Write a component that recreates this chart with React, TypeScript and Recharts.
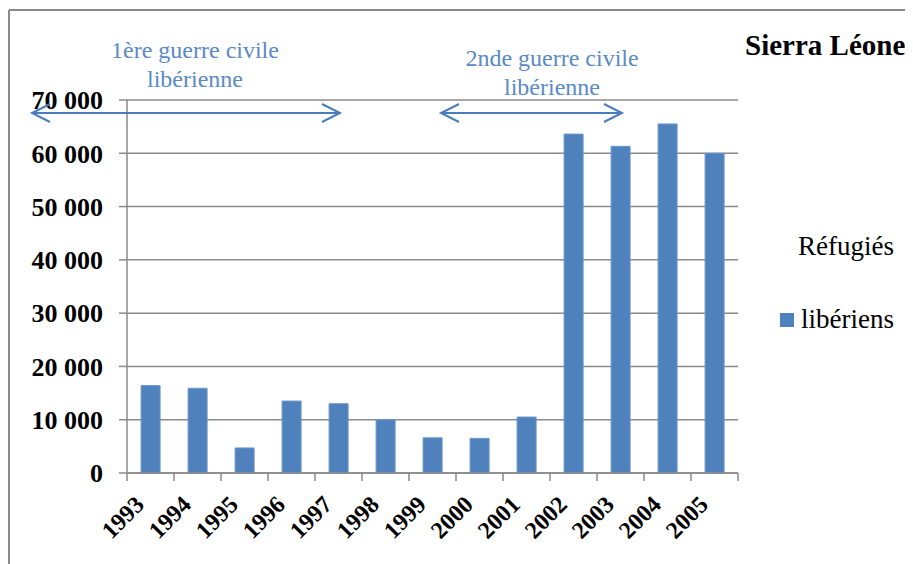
import React from "react";
import { BarChart, Bar, XAxis, YAxis, CartesianGrid } from "recharts";

const YEARS = ["1993","1994","1995","1996","1997","1998","1999","2000","2001","2002","2003","2004","2005"];
const REFUGEES = [16400, 15900, 4700, 13500, 13000, 10000, 6600, 6500, 10500, 63600, 61300, 65500, 60000];
const Y_TICKS = [0, 10000, 20000, 30000, 40000, 50000, 60000, 70000];
const SERIES_NAME = "libériens";
const LEGEND_TITLE = "Réfugiés";
const HEADING = "Sierra Léone";
const ANNOT_1 = ["1ère guerre civile", "libérienne"];
const ANNOT_2 = ["2nde guerre civile", "libérienne"];

const data = YEARS.map((y, i) => ({ year: y, value: REFUGEES[i] }));

const W = 905;
const H = 556;
const PLOT_LEFT = 119;
const PLOT_RIGHT = 730;
const STEP = (PLOT_RIGHT - PLOT_LEFT) / YEARS.length;
const BLUE = "#4F81BD";
const TEXT_BLUE = "#5A8AC6";
const GRAY = "#8a8a8a";
const FONT = "Liberation Serif, Times New Roman, DejaVu Serif, serif";

const fmt = (v: number) => {
  if (v === 0) return "0";
  const s = String(v);
  return s.slice(0, s.length - 3) + " " + s.slice(-3);
};

const XTick = (props: any) => {
  const { x, y, payload, index } = props;
  const last = index === YEARS.length - 1;
  const tx = x - 5;
  const ty = y + 33;
  return (
    <g>
      <line x1={x - STEP / 2} y1={y} x2={x - STEP / 2} y2={y + 8} stroke={GRAY} strokeWidth={1.5} />
      {last && <line x1={x + STEP / 2} y1={y} x2={x + STEP / 2} y2={y + 8} stroke={GRAY} strokeWidth={1.5} />}
      <text
        x={tx}
        y={ty}
        textAnchor="end"
        transform={`rotate(-45 ${tx} ${ty})`}
        style={{ fontFamily: FONT, fontWeight: "bold", fontSize: 24 }}
        fill="#000"
      >
        {payload.value}
      </text>
    </g>
  );
};

const Arrow = ({ x1, x2, y }: { x1: number; x2: number; y: number }) => (
  <g stroke="#4A7EBB" strokeWidth={2} fill="none">
    <line x1={x1} y1={y} x2={x2} y2={y} />
    <polyline points={`${x1 + 18},${y - 9} ${x1},${y} ${x1 + 18},${y + 9}`} />
    <polyline points={`${x2 - 18},${y - 9} ${x2},${y} ${x2 - 18},${y + 9}`} />
  </g>
);

const ff = (size: number, weight: number): React.CSSProperties => ({
  fontFamily: FONT,
  fontSize: size,
  fontWeight: weight,
});

export default function App() {
  return (
    <div style={{ position: "relative", width: W, height: H }}>
      <BarChart
        width={W}
        height={H}
        data={data}
        margin={{ top: 92, right: W - PLOT_RIGHT, bottom: 10, left: 0 }}
        barCategoryGap="30%"
      >
        <CartesianGrid vertical={false} stroke={GRAY} strokeWidth={1.5} />
        <XAxis
          dataKey="year"
          height={81}
          stroke={GRAY}
          strokeWidth={1.5}
          tickLine={false}
          tickSize={0}
          tickMargin={0}
          interval={0}
          tick={<XTick />}
        />
        <YAxis
          width={PLOT_LEFT}
          domain={[0, 70000]}
          ticks={Y_TICKS}
          tickFormatter={fmt}
          stroke={GRAY}
          strokeWidth={1.5}
          tickSize={8}
          tickMargin={16}
          tick={{ fontFamily: FONT, fontWeight: "bold", fontSize: 26, fill: "#000" }}
        />
        <Bar dataKey="value" name={SERIES_NAME} fill={BLUE} stroke="#6a96cc" strokeWidth={1} isAnimationActive={false} />
      </BarChart>
      <svg
        width={W}
        height={H}
        style={{ position: "absolute", left: 0, top: 0, pointerEvents: "none" }}
      >
        <line x1={1} y1={2} x2={W} y2={2} stroke={GRAY} strokeWidth={2} />
        <line x1={1} y1={2} x2={1} y2={H} stroke={GRAY} strokeWidth={2} />
        <g fill={TEXT_BLUE} textAnchor="middle">
          <text x={187} y={50} style={ff(24, 400)}>{ANNOT_1[0]}</text>
          <text x={187} y={79} style={ff(24, 400)}>{ANNOT_1[1]}</text>
          <text x={544} y={58} style={ff(24, 400)}>{ANNOT_2[0]}</text>
          <text x={544} y={87} style={ff(24, 400)}>{ANNOT_2[1]}</text>
        </g>
        <Arrow x1={24} x2={332} y={105} />
        <Arrow x1={433} x2={614} y={105} />
        <text x={737} y={47} style={ff(29, 700)} fill="#000">
          {HEADING}
        </text>
        <text x={790} y={247} style={ff(27, 400)} fill="#000">
          {LEGEND_TITLE}
        </text>
        <rect x={772} y={305} width={14} height={14} fill={BLUE} />
        <text x={793} y={320} style={ff(27, 400)} fill="#000">
          {SERIES_NAME}
        </text>
      </svg>
    </div>
  );
}
